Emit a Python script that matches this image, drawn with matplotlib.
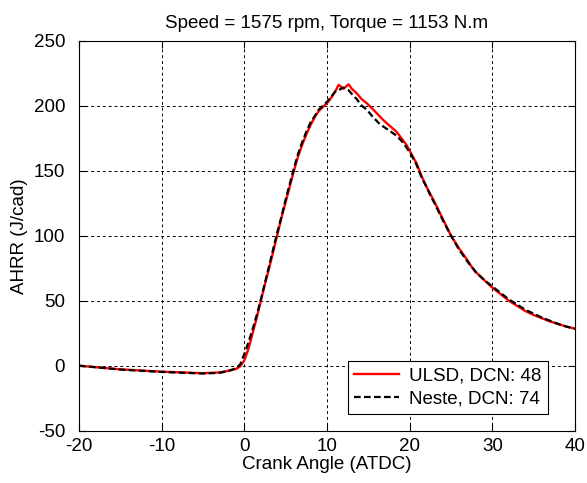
import matplotlib
matplotlib.use("Agg")
import matplotlib.pyplot as plt

plt.rcParams['font.family'] = ['Liberation Sans', 'DejaVu Sans']
plt.rcParams['axes.unicode_minus'] = False

crank_angle = [-20, -15, -10, -5, -3, -2, -1, -0.5, 0, 0.5, 1, 1.5, 2, 2.5, 3, 3.5, 4, 4.5,
               5, 5.5, 6, 6.5, 7, 7.5, 8, 8.5, 9, 9.5, 10, 10.5, 11, 11.4, 12, 12.6, 13,
               13.6, 14.2, 14.8, 15.6, 16.2, 16.8, 17.5, 18.4, 19, 19.6, 20.2, 20.8, 21.5,
               22, 22.5, 23, 24, 25, 26, 27, 27.5, 28, 29, 30, 31, 32, 33, 34, 35, 36, 37,
               38, 39, 40]

ulsd = [0, -2.8, -4.6, -5.8, -5.2, -4, -2.5, -0.5, 4, 13, 25, 37, 50, 63, 75, 88, 101, 114,
        126, 138, 150, 161, 170, 178, 185, 191, 196, 199, 202, 206, 211, 216, 213, 216.5, 213,
        209.5, 205, 202, 197, 193, 189, 185, 180, 175, 170, 163, 156, 145,
        138, 132, 126, 113, 100, 90, 81, 76, 72, 66, 60, 55, 50, 46, 42, 39, 36.5, 34,
        32, 30, 28.5]

neste = [0, -3, -4.8, -6, -5.5, -4.2, -2, 1, 9, 18, 28, 39, 51, 64, 77, 90, 103, 115,
         128, 140, 152, 163, 172, 180, 187, 192, 197, 200, 203, 207, 211, 212, 214, 212, 209,
         205, 200, 197, 191, 187, 184, 181, 177, 173, 168, 162, 155, 144,
         138, 131, 125, 112, 100, 89, 80, 76, 72, 66, 61, 56, 51, 47, 43, 40, 37, 34.5,
         32, 30, 28.5]

title = "Speed = 1575 rpm, Torque = 1153 N.m"
xlabel = "Crank Angle (ATDC)"
ylabel = "AHRR (J/cad)"
labels = ["ULSD, DCN: 48", "Neste, DCN: 74"]

FS = 13.5

fig = plt.figure(figsize=(5.87, 4.83), dpi=100)
ax = fig.add_axes([0.1346, 0.1083, 0.845, 0.8074])

ax.plot(crank_angle, ulsd, color='#ff0000', lw=1.7, label=labels[0])
ax.plot(crank_angle, neste, color='black', lw=1.6, linestyle=(0, (3, 1.5)), label=labels[1])

ax.set_xlim(-20, 40)
ax.set_ylim(-50, 250)
ax.set_xticks(range(-20, 41, 10))
ax.set_yticks(range(-50, 251, 50))
ax.grid(True, color='black', linestyle=(0, (3, 3)), linewidth=0.7)
ax.tick_params(direction='in', top=True, right=True, labelsize=FS, length=5)
ax.tick_params(axis='y', pad=10)
ax.tick_params(axis='x', pad=5)
for s in ax.spines.values():
    s.set_linewidth(0.8)

ax.set_title(title, fontsize=FS, pad=9)
ax.set_xlabel(xlabel, fontsize=FS, labelpad=1)
ax.set_ylabel(ylabel, fontsize=FS, labelpad=4)

leg = ax.legend(loc='lower right', fontsize=FS, fancybox=False, edgecolor='black',
                framealpha=1, handlelength=2.4, borderaxespad=0,
                bbox_to_anchor=(0.945, 0.043), borderpad=0.35, labelspacing=0.3,
                handletextpad=0.5)
leg.get_frame().set_linewidth(0.8)

fig.savefig('out.png', dpi=100)
